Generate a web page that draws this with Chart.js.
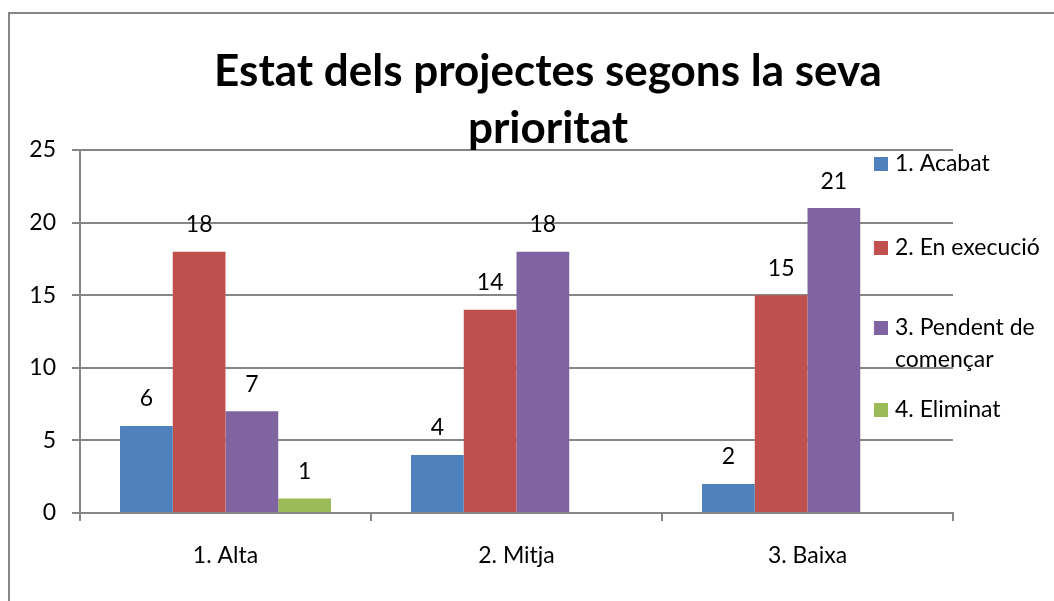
<!DOCTYPE html>
<html>
<head>
<meta charset="utf-8">
<script src="https://cdn.jsdelivr.net/npm/chart.js@4/dist/chart.umd.min.js"></script>
<style>
body { margin: 0; background: #fff; overflow: hidden; }
#wrap { position: relative; width: 1054px; height: 601px; }
#frame { position: absolute; left: 8px; top: 12px; width: 1100px; height: 700px;
	border-left: 2px solid #868686; border-top: 2px solid #868686; }
canvas { position: absolute; left: 0; top: 0; }
</style>
</head>
<body>
<div id="wrap"><div id="frame"></div><canvas id="chart" width="1054" height="601"></canvas></div>
<script>
//chart data
var titleLines = ["Estat dels projectes segons la seva", "prioritat"];
var categories = ["1. Alta", "2. Mitja", "3. Baixa"];
var seriesNames = ["1. Acabat", "2. En execució", "3. Pendent de començar", "4. Eliminat"];
var acabat = [6, 4, 2];
var enExecucio = [18, 14, 15];
var pendent = [7, 18, 21];
var eliminat = [1, null, null];
var yTicks = [0, 5, 10, 15, 20, 25];
var colors = ["#4F81BD", "#C0504D", "#8064A2", "#9BBB59"];

var FONT = "Lato";
var GREY = "#868686";

//value labels above bars
var valueLabels = {
	id: "valueLabels",
	afterDatasetsDraw: function( chart ){
		var ctx = chart.ctx;
		ctx.save();
		ctx.font = "23px " + FONT;
		ctx.fillStyle = "#000";
		ctx.textAlign = "center";
		ctx.textBaseline = "middle";
		chart.data.datasets.forEach( function( ds, i ){
			var meta = chart.getDatasetMeta( i );
			meta.data.forEach( function( bar, j ){
				if( ds.data[j] == null ) return;
				ctx.fillText( String( ds.data[j] ), bar.x, bar.y - 27 );
			});
		});
		ctx.restore();
	}
};

//title and legend drawn over the plot, like the original
var overlay = {
	id: "overlay",
	afterDraw: function( chart ){
		var ctx = chart.ctx;
		ctx.save();
		ctx.fillStyle = "#000";
		ctx.textAlign = "center";
		ctx.textBaseline = "middle";
		ctx.font = "bold 44px " + FONT;
		ctx.fillText( titleLines[0], 548, 72 );
		ctx.fillText( titleLines[1], 548, 129 );

		//legend
		var legendY = [164, 248, 328, 410];
		ctx.textAlign = "left";
		ctx.font = "23px " + FONT;
		chart.data.datasets.forEach( function( ds, i ){
			var y = legendY[i];
			ctx.fillStyle = ds.backgroundColor;
			ctx.fillRect( 874, y - 7, 14, 14 );
			ctx.fillStyle = "#000";
			//wrap long names
			var words = ds.label.split(" "), line = "", lines = [];
			for( var k = 0; k < words.length; k++ ){
				var test = line ? line + " " + words[k] : words[k];
				if( ctx.measureText( test ).width > 158 && line ){
					lines.push( line );
					line = words[k];
				} else line = test;
			}
			lines.push( line );
			lines.forEach( function( l, n ){ ctx.fillText( l, 895, y + n * 32 ); });
		});
		ctx.restore();
	}
};

function build(){
	new Chart( document.getElementById("chart").getContext("2d"), {
		type: "bar",
		data: {
			labels: categories,
			datasets: [
				{ label: seriesNames[0], data: acabat, backgroundColor: colors[0] },
				{ label: seriesNames[1], data: enExecucio, backgroundColor: colors[1] },
				{ label: seriesNames[2], data: pendent, backgroundColor: colors[2] },
				{ label: seriesNames[3], data: eliminat, backgroundColor: colors[3] }
			]
		},
		options: {
			responsive: false,
			animation: false,
			devicePixelRatio: 1,
			layout: { padding: { left: 10, top: 150, right: 101, bottom: 33 } },
			datasets: { bar: { barPercentage: 1, categoryPercentage: 0.725 } },
			plugins: { legend: { display: false }, title: { display: false }, tooltip: { enabled: false } },
			scales: {
				x: {
					grid: { offset: true, drawOnChartArea: false, drawTicks: true, tickLength: 8, color: GREY, lineWidth: 2 },
					border: { color: GREY, width: 2 },
					ticks: { font: { family: FONT, size: 23 }, color: "#000", padding: 21 },
					afterFit: function( s ){ s.height = 55; }
				},
				y: {
					min: 0, max: 25,
					afterBuildTicks: function( s ){ s.ticks = yTicks.map( function( v ){ return { value: v }; }); },
					grid: { color: GREY, lineWidth: 2, tickLength: 8 },
					border: { color: GREY, width: 2 },
					ticks: { font: { family: FONT, size: 23 }, color: "#000", padding: 16 },
					afterFit: function( s ){ s.width = 70; }
				}
			}
		},
		plugins: [ valueLabels, overlay ]
	});
}

if( document.fonts && document.fonts.load ){
	Promise.all([ document.fonts.load("bold 44px " + FONT), document.fonts.load("23px " + FONT) ]).then( build, build );
} else build();
</script>
</body>
</html>
